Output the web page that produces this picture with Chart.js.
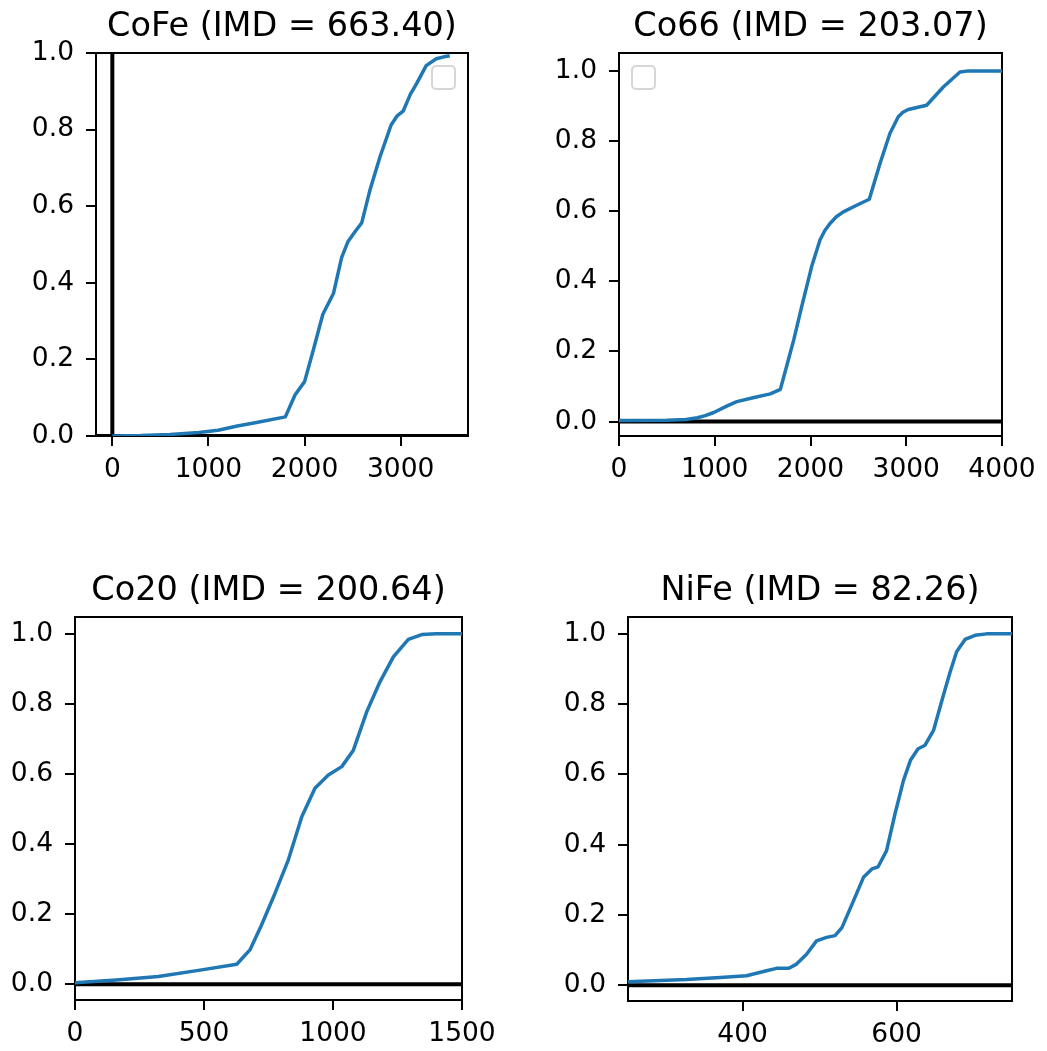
<!DOCTYPE html>
<html>
<head>
<meta charset="utf-8">
<script src="https://cdn.jsdelivr.net/npm/chart.js@4.4.1/dist/chart.umd.min.js"></script>
<style>
   html, body { margin: 0; padding: 0; background: #fff; overflow: hidden; }
   body { position: relative; width: 1047px; height: 1051px; }
   canvas { position: absolute; }
</style>
</head>
<body>
<canvas id="cofe"></canvas>
<canvas id="co66"></canvas>
<canvas id="co20"></canvas>
<canvas id="nife"></canvas>
<script>
// CoFe
const cofeX = [0, 300, 600, 900, 1100, 1300, 1500, 1800, 1900, 2000, 2090, 2190, 2300, 2385, 2450, 2530, 2595, 2680, 2785, 2900, 2960, 3025, 3100, 3165, 3265, 3370, 3450, 3510];
const cofeY = [0, 0.001, 0.004, 0.009, 0.015, 0.026, 0.035, 0.050, 0.107, 0.142, 0.224, 0.318, 0.372, 0.466, 0.507, 0.535, 0.557, 0.642, 0.729, 0.812, 0.835, 0.848, 0.892, 0.920, 0.967, 0.985, 0.990, 0.993];
// Co66
const co66X = [0, 500, 700, 820, 900, 990, 1130, 1230, 1400, 1580, 1685, 1750, 1825, 1908, 2012, 2099, 2150, 2204, 2270, 2343, 2482, 2614, 2726, 2830, 2917, 2965, 3021, 3213, 3387, 3561, 3650, 4000];
const co66Y = [0.003, 0.004, 0.006, 0.011, 0.017, 0.026, 0.045, 0.057, 0.068, 0.079, 0.092, 0.157, 0.233, 0.328, 0.442, 0.518, 0.545, 0.565, 0.584, 0.598, 0.617, 0.634, 0.736, 0.822, 0.869, 0.882, 0.890, 0.902, 0.954, 0.997, 1.0, 1.0];
// Co20
const co20X = [0, 160, 323, 491, 627, 678, 723, 775, 827, 879, 930, 982, 1034, 1079, 1131, 1182, 1234, 1292, 1344, 1400, 1500];
const co20Y = [0.004, 0.012, 0.022, 0.041, 0.057, 0.098, 0.169, 0.259, 0.355, 0.478, 0.559, 0.597, 0.621, 0.668, 0.778, 0.863, 0.934, 0.984, 0.998, 1.0, 1.0];
// NiFe
const nifeX = [251, 327, 371, 405, 431, 444, 460, 470, 483, 496, 509, 520, 529, 544, 557, 568, 576, 587, 598, 609, 618, 628, 637, 648, 659, 669, 678, 689, 702, 717, 750];
const nifeY = [0.010, 0.016, 0.022, 0.027, 0.041, 0.048, 0.048, 0.060, 0.088, 0.126, 0.136, 0.141, 0.164, 0.240, 0.307, 0.331, 0.337, 0.383, 0.488, 0.583, 0.640, 0.673, 0.683, 0.725, 0.811, 0.887, 0.949, 0.984, 0.996, 1.0, 1.0];

const titles = ['CoFe (IMD = 663.40)', 'Co66 (IMD = 203.07)', 'Co20 (IMD = 200.64)', 'NiFe (IMD = 82.26)'];
const yTicks = [0, 0.2, 0.4, 0.6, 0.8, 1.0];
const cofeXTicks = [0, 1000, 2000, 3000];
const co66XTicks = [0, 1000, 2000, 3000, 4000];
const co20XTicks = [0, 500, 1000, 1500];
const nifeXTicks = [400, 600];

const BLUE = '#1f77b4';
const SIDE = 95, TITLE_H = 50, XAXIS_H = 60;
const FONT = "'DejaVu Sans', sans-serif";

// пустая рамка легенды (legend() без подписей)
const emptyLegend = {
   id: 'emptyLegend',
   afterDraw(chart, args, opts) {
      if (!opts.corner) return;
      const { ctx, chartArea: a } = chart;
      const w = 23, h = 23, off = 13;
      const x = opts.corner === 'right' ? a.right - off - w : a.left + off;
      const y = a.top + off;
      ctx.save();
      ctx.fillStyle = 'rgba(255,255,255,0.8)';
      ctx.strokeStyle = '#d6d6d6';
      ctx.lineWidth = 2;
      ctx.beginPath();
      ctx.roundRect(x, y, w, h, 4);
      ctx.fill();
      ctx.stroke();
      ctx.restore();
   }
};

function toPoints(xs, ys) {
   return xs.map((x, i) => ({ x, y: ys[i] }));
}

function makePanel(id, box, p) {
   const canvas = document.getElementById(id);
   canvas.width = box.w + 2 * SIDE;
   canvas.height = box.h + TITLE_H + XAXIS_H;
   canvas.style.left = (box.l - SIDE) + 'px';
   canvas.style.top = (box.t - TITLE_H) + 'px';

   const datasets = [{
      data: toPoints(p.xs, p.ys),
      borderColor: BLUE,
      borderWidth: 3.5,
      borderJoinStyle: 'round',
      pointRadius: 0,
      tension: 0,
      clip: 0
   }, {
      // axhline(0)
      data: [{ x: p.xMin, y: 0 }, { x: p.xMax, y: 0 }],
      borderColor: '#000',
      borderWidth: 4,
      pointRadius: 0,
      clip: 0
   }];
   if (p.vline) {
      // axvline(0)
      datasets.push({
         data: [{ x: 0, y: p.yMin }, { x: 0, y: p.yMax }],
         borderColor: '#000',
         borderWidth: 4,
         pointRadius: 0,
         clip: 0
      });
   }

   const tickFont = { family: FONT, size: 26.5 };
   const frame = { display: true, color: '#000', width: 2 };

   return new Chart(canvas, {
      type: 'line',
      data: { datasets },
      plugins: [emptyLegend],
      options: {
         responsive: false,
         animation: false,
         events: [],
         layout: { padding: 0 },
         plugins: {
            legend: { display: false },
            tooltip: { enabled: false },
            title: {
               display: true,
               text: p.title,
               color: '#000',
               font: { family: FONT, size: 33.5, weight: 'normal', lineHeight: 1.2 },
               padding: { top: 4, bottom: 5.8 }
            },
            emptyLegend: { corner: p.legend }
         },
         scales: {
            x: {
               type: 'linear',
               position: 'bottom',
               min: p.xMin,
               max: p.xMax,
               afterBuildTicks: s => { s.ticks = p.xTicks.map(v => ({ value: v })); },
               afterFit: s => { s.height = XAXIS_H; },
               grid: { drawOnChartArea: false, drawTicks: true, tickLength: 10, color: '#000', lineWidth: 2 },
               border: frame,
               ticks: { color: '#000', font: tickFont, padding: 8, maxRotation: 0, callback: v => String(v) }
            },
            y: {
               type: 'linear',
               position: 'left',
               min: p.yMin,
               max: p.yMax,
               afterBuildTicks: s => { s.ticks = yTicks.map(v => ({ value: v })); },
               afterFit: s => { s.width = SIDE; },
               grid: { drawOnChartArea: false, drawTicks: true, tickLength: 10, color: '#000', lineWidth: 2 },
               border: frame,
               ticks: { color: '#000', font: tickFont, padding: 12, callback: v => v.toFixed(1) }
            },
            // верхняя и правая стороны рамки
            x2: {
               type: 'linear',
               position: 'top',
               afterFit: s => { s.height = 0; },
               grid: { display: false },
               ticks: { display: false },
               border: frame
            },
            y2: {
               type: 'linear',
               position: 'right',
               afterFit: s => { s.width = SIDE; },
               grid: { display: false },
               ticks: { display: false },
               border: frame
            }
         }
      }
   });
}

makePanel('cofe', { l: 96, t: 53, w: 372, h: 383 }, {
   title: titles[0], xs: cofeX, ys: cofeY, xTicks: cofeXTicks,
   xMin: -170, xMax: 3700, yMin: 0, yMax: 1, vline: true, legend: 'right'
});
makePanel('co66', { l: 619, t: 53, w: 383, h: 383 }, {
   title: titles[1], xs: co66X, ys: co66Y, xTicks: co66XTicks,
   xMin: 0, xMax: 4000, yMin: -0.041, yMax: 1.051, legend: 'left'
});
makePanel('co20', { l: 75, t: 617, w: 387, h: 383 }, {
   title: titles[2], xs: co20X, ys: co20Y, xTicks: co20XTicks,
   xMin: 0, xMax: 1500, yMin: -0.045, yMax: 1.048
});
makePanel('nife', { l: 628, t: 617, w: 384, h: 384 }, {
   title: titles[3], xs: nifeX, ys: nifeY, xTicks: nifeXTicks,
   xMin: 251, xMax: 750, yMin: -0.045, yMax: 1.048
});
</script>
</body>
</html>
